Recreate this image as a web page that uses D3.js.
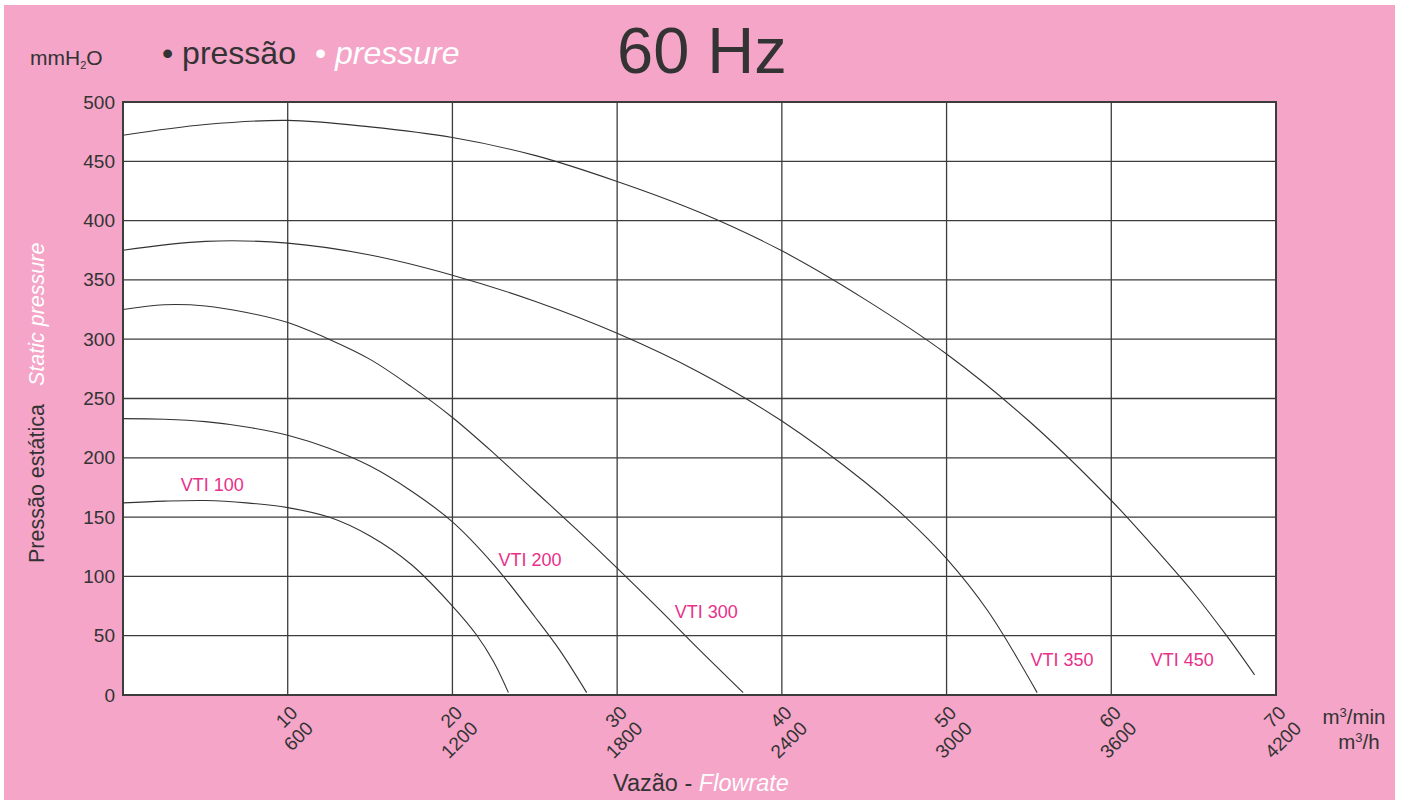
<!DOCTYPE html>
<html>
<head>
<meta charset="utf-8">
<script src="https://cdn.jsdelivr.net/npm/d3@7"></script>
<style>
  body { margin: 0; background: #fff; }
  svg { display: block; font-family: "Liberation Sans", Arial, sans-serif; }
</style>
</head>
<body>
<div id="chart"></div>
<script>
// data: [flow m3/min, static pressure mmH2O]
var vti100 = [[0,162],[2.5,163.5],[5,164],[7.5,162],[10,158],[12.5,150],[15,134],[17.5,110],[20,75],[21.5,50],[22.5,28],[23.4,2]];
var vti200 = [[0,233],[2.5,232.5],[5,230.5],[7.5,226],[10,219],[12.5,208],[15,193],[17.5,172],[20,146],[22.5,110],[25,66],[26.5,38],[28.15,2]];
var vti300 = [[0,325],[2.5,329],[5,328],[7.5,322.5],[10,314],[12.5,300],[15,283],[17.5,260],[20,234],[22.5,204],[25,172],[27.5,140],[30,107],[32.5,73],[35,38],[37.65,2]];
var vti350 = [[0,375],[5,382.5],[10,381],[15,371],[20,354],[25,332],[30,305],[35,272],[40,231],[45,180],[47.5,150],[50,115],[52.5,71],[55.5,2]];
var vti450 = [[0,472],[5,481],[10,484.5],[15,479],[20,470],[25,455],[30,433],[35,407],[40,374.5],[45,334],[50,287.5],[55,231],[60,164],[62.5,126],[65,86],[67,50],[68.7,17]];

var seriesNames = ["VTI 100", "VTI 200", "VTI 300", "VTI 350", "VTI 450"];
var seriesData = [vti100, vti200, vti300, vti350, vti450];
// where each name sits, in data units
var labelPos = [[3.5,177],[22.8,114],[33.5,70],[55.1,30],[62.4,30]];

var xTicks = [10, 20, 30, 40, 50, 60, 70];
var xTicksH = ["600", "1200", "1800", "2400", "3000", "3600", "4200"];
var yTicks = [0, 50, 100, 150, 200, 250, 300, 350, 400, 450, 500];

var W = 1402, H = 800;
var margin = {top: 102, right: 126, bottom: 105, left: 123};
var w = W - margin.left - margin.right,
    h = H - margin.top - margin.bottom;

var svg = d3.select("#chart").append("svg")
    .attr("width", W).attr("height", H);

// pink card
svg.append("rect").attr("x", 4).attr("y", 5).attr("width", 1391).attr("height", 795)
    .attr("fill", "#f4a5c8");

var x = d3.scaleLinear().domain([0, 70]).range([0, w]);
var y = d3.scaleLinear().domain([0, 500]).range([h, 0]);

var g = svg.append("g").attr("transform", "translate(" + margin.left + "," + margin.top + ")");

g.append("rect").attr("width", w).attr("height", h).attr("fill", "#fff");

// grid
g.append("g").selectAll("line").data(yTicks).join("line")
    .attr("x1", 0).attr("x2", w)
    .attr("y1", function(d) { return y(d); }).attr("y2", function(d) { return y(d); })
    .attr("stroke", "#3c3c3c").attr("stroke-width", 1.3);
g.append("g").selectAll("line").data(xTicks).join("line")
    .attr("y1", 0).attr("y2", h)
    .attr("x1", function(d) { return x(d); }).attr("x2", function(d) { return x(d); })
    .attr("stroke", "#3c3c3c").attr("stroke-width", 1.3);

g.append("rect").attr("width", w).attr("height", h)
    .attr("fill", "none").attr("stroke", "#3c3c3c").attr("stroke-width", 2);

// y axis labels
var yAxis = g.append("g").call(d3.axisLeft(y).tickValues(yTicks).tickSize(0).tickPadding(8));
yAxis.select(".domain").remove();
yAxis.selectAll("text").attr("font-size", 19).attr("fill", "#333")
    .attr("font-family", "Liberation Sans, Arial, sans-serif");

// x axis labels, two lines rotated
var xl = g.append("g").selectAll("text").data(xTicks).join("text")
    .attr("transform", function(d) { return "translate(" + (x(d) + 11) + "," + (h + 19) + ") rotate(-45)"; })
    .attr("text-anchor", "end").attr("font-size", 19).attr("fill", "#333");
xl.append("tspan").attr("x", 0).text(function(d) { return d; });
xl.append("tspan").attr("x", 0).attr("dy", 22).text(function(d, i) { return xTicksH[i]; });

// curves
var line = d3.line()
    .x(function(d) { return x(d[0]); })
    .y(function(d) { return y(d[1]); })
    .curve(d3.curveCatmullRom.alpha(0.5));

g.append("g").selectAll("path").data(seriesData).join("path")
    .attr("d", line)
    .attr("fill", "none").attr("stroke", "#333").attr("stroke-width", 1.1);

g.append("g").selectAll("text").data(seriesNames).join("text")
    .attr("x", function(d, i) { return x(labelPos[i][0]); })
    .attr("y", function(d, i) { return y(labelPos[i][1]); })
    .attr("dy", "0.35em")
    .attr("font-size", 18).attr("fill", "#e8308a")
    .text(function(d) { return d; });

// header texts
var unit = svg.append("text").attr("x", 30).attr("y", 65).attr("font-size", 21).attr("fill", "#333");
unit.append("tspan").text("mmH");
unit.append("tspan").attr("font-size", 11).attr("dy", 4).text("2");
unit.append("tspan").attr("dy", -4).text("O");

svg.append("text").attr("x", 162).attr("y", 64).attr("font-size", 32).attr("fill", "#333")
    .text("• pressão");
svg.append("text").attr("x", 315).attr("y", 64).attr("font-size", 32).attr("fill", "#fff")
    .text("•");
svg.append("text").attr("x", 335).attr("y", 64).attr("font-size", 32).attr("fill", "#fff")
    .attr("font-style", "italic").text("pressure");

svg.append("text").attr("x", 617).attr("y", 73).attr("font-size", 65).attr("fill", "#333")
    .text("60 Hz");

// axis titles
var yt = svg.append("text").attr("transform", "translate(44,563) rotate(-90)")
    .attr("font-size", 21.5);
yt.append("tspan").attr("fill", "#333").text("Pressão estática");
yt.append("tspan").attr("fill", "#fff").attr("font-style", "italic").attr("dx", 18).text("Static pressure");

var xt = svg.append("text").attr("x", 701).attr("y", 791).attr("text-anchor", "middle")
    .attr("font-size", 23.5);
xt.append("tspan").attr("fill", "#333").text("Vazão - ");
xt.append("tspan").attr("fill", "#fff").attr("font-style", "italic").text("Flowrate");

var u1 = svg.append("text").attr("x", 1354).attr("y", 724).attr("text-anchor", "middle")
    .attr("font-size", 20.5).attr("fill", "#333");
u1.append("tspan").text("m");
u1.append("tspan").attr("font-size", 13).attr("dy", -7).text("3");
u1.append("tspan").attr("dy", 7).text("/min");
var u2 = svg.append("text").attr("x", 1359).attr("y", 749).attr("text-anchor", "middle")
    .attr("font-size", 20.5).attr("fill", "#333");
u2.append("tspan").text("m");
u2.append("tspan").attr("font-size", 13).attr("dy", -7).text("3");
u2.append("tspan").attr("dy", 7).text("/h");
</script>
</body>
</html>
